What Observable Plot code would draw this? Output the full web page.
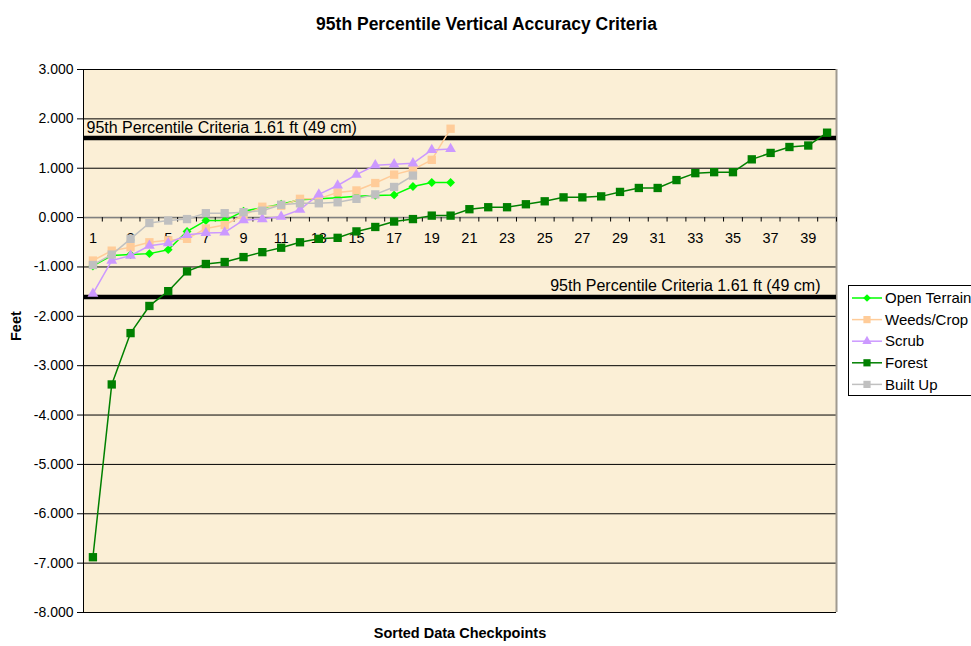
<!DOCTYPE html>
<html><head><meta charset="utf-8">
<script src="https://cdn.jsdelivr.net/npm/d3@7"></script>
<script src="https://cdn.jsdelivr.net/npm/@observablehq/plot@0.6"></script>
<style>body{margin:0;background:#fff;} svg{display:block}</style>
</head><body><div id="chart"></div>
<script>
const seriesNames = ["Open Terrain", "Weeds/Crop", "Scrub", "Forest", "Built Up"];
const openTerrain = [-0.98, -0.77, -0.75, -0.73, -0.65, -0.28, -0.06, -0.06, 0.13, 0.20, 0.27, 0.36, 0.38, 0.40, 0.43, 0.45, 0.46, 0.63, 0.71, 0.71];
const weedsCrop = [-0.87, -0.67, -0.60, -0.50, -0.46, -0.43, -0.22, -0.15, 0.05, 0.22, 0.24, 0.38, 0.38, 0.51, 0.55, 0.70, 0.87, 0.97, 1.17, 1.80];
const scrub = [-1.54, -0.87, -0.77, -0.57, -0.52, -0.35, -0.31, -0.30, -0.05, -0.03, 0.02, 0.16, 0.47, 0.65, 0.87, 1.06, 1.08, 1.10, 1.37, 1.39];
const forest = [-6.88, -3.38, -2.34, -1.79, -1.49, -1.09, -0.94, -0.90, -0.80, -0.70, -0.61, -0.50, -0.43, -0.41, -0.28, -0.19, -0.08, -0.03, 0.04, 0.04,
  0.17, 0.21, 0.21, 0.27, 0.33, 0.41, 0.41, 0.43, 0.52, 0.60, 0.60, 0.76, 0.90, 0.92, 0.92, 1.18, 1.31, 1.43, 1.46, 1.72];
const builtUp = [-0.96, -0.75, -0.43, -0.11, -0.06, -0.03, 0.09, 0.09, 0.11, 0.14, 0.26, 0.29, 0.29, 0.31, 0.38, 0.47, 0.62, 0.85];
const categories = d3.range(1, 41);
const xTickLabels = [1, 3, 5, 7, 9, 11, 13, 15, 17, 19, 21, 23, 25, 27, 29, 31, 33, 35, 37, 39];
const yTicks = [3, 2, 1, 0, -1, -2, -3, -4, -5, -6, -7, -8];
const criteria = 1.61;
const criteriaLabel = "95th Percentile Criteria 1.61 ft (49 cm)";
const titleText = "95th Percentile Vertical Accuracy Criteria";
const xTitle = "Sorted Data Checkpoints";
const yTitle = "Feet";

const seriesValues = [openTerrain, weedsCrop, scrub, forest, builtUp];
const colors = ["#00ff00", "#ffcc99", "#cc99ff", "#008000", "#c0c0c0"];
const symbols = ["diamond2", "square", "triangle", "square", "square"];
const radii = [4, 4.7, 4, 4.7, 4.7];

const tables = seriesValues.map((vals, s) => vals.map((v, i) => ({series: seriesNames[s], x: categories[i], y: v})));
const boundaries = [0, ...categories].map(c => c + 0.5);

const font = "'Liberation Sans', Arial, sans-serif";

const seriesMarks = tables.flatMap((t, s) => [
  Plot.line(t, {x: "x", y: "y", stroke: colors[s], strokeWidth: 1.5}),
  Plot.dot(t, {x: "x", y: "y", symbol: symbols[s], fill: colors[s], stroke: "none", r: radii[s]})
]);

const chart = Plot.plot({
  width: 971, height: 646,
  marginLeft: 83, marginRight: 135, marginTop: 69, marginBottom: 34,
  x: {domain: [0.5, 40.5], axis: null},
  y: {domain: [-8, 3], axis: null},
  style: {fontFamily: font, fontSize: "14px", color: "black", background: "white"},
  marks: [
    Plot.frame({fill: "#fbefd6", stroke: null}),
    Plot.ruleY(yTicks, {stroke: "black", strokeWidth: 1}),
    Plot.ruleY([0], {stroke: "#808080", strokeWidth: 1.5}),
    Plot.ruleX([40.5], {stroke: "#a09a90", strokeWidth: 2}),
    Plot.ruleX([0.5], {stroke: "black", strokeWidth: 1}),
    Plot.axisY({ticks: yTicks, tickFormat: d => d.toFixed(3), tickSize: 6, tickPadding: 4, fontSize: 14, label: null, stroke: "black"}),
    Plot.ruleX(boundaries, {y1: 0, y2: -0.09, stroke: "black"}),
    Plot.text(xTickLabels, {x: d => d, y: 0, dy: 21, text: d => String(d), fontSize: 14.5}),
    Plot.ruleY([criteria, -criteria], {stroke: "black", strokeWidth: 4.5}),
    Plot.text([criteriaLabel], {x: 0.5, y: criteria, dx: 3, dy: -10, textAnchor: "start", fontSize: 16}),
    Plot.text([criteriaLabel], {x: 40.5, y: -criteria, dx: -16, dy: -11, textAnchor: "end", fontSize: 16}),
    ...seriesMarks,
    Plot.text([titleText], {frameAnchor: "top", dx: 26.5, dy: -52, fontWeight: "bold", fontSize: 17.5}),
    Plot.text([xTitle], {frameAnchor: "bottom", dy: 25, fontWeight: "bold", fontSize: 14.5}),
    Plot.text([yTitle], {frameAnchor: "left", dx: -67, rotate: -90, fontWeight: "bold", fontSize: 14.5})
  ]
});

// Legend
const svg = d3.select(chart);
const lg = svg.append("g").attr("font-family", font).attr("font-size", 15).attr("text-anchor", "start");
lg.append("rect").attr("x", 848.5).attr("y", 285.5).attr("width", 130).attr("height", 110)
  .attr("fill", "white").attr("stroke", "black");
const symMap = {diamond2: d3.symbolDiamond2, square: d3.symbolSquare, triangle: d3.symbolTriangle};
seriesNames.forEach((name, i) => {
  const y = 298 + i * 21.6;
  lg.append("line").attr("x1", 852).attr("x2", 882).attr("y1", y).attr("y2", y)
    .attr("stroke", colors[i]).attr("stroke-width", 1.5);
  lg.append("path").attr("transform", `translate(867,${y})`)
    .attr("d", d3.symbol(symMap[symbols[i]], Math.PI * radii[i] * radii[i] * 0.75)())
    .attr("fill", colors[i]);
  lg.append("text").attr("x", 885).attr("y", y).attr("dy", "0.35em").attr("text-anchor", "start").text(name);
});

document.getElementById("chart").appendChild(chart);
</script>
</body></html>
